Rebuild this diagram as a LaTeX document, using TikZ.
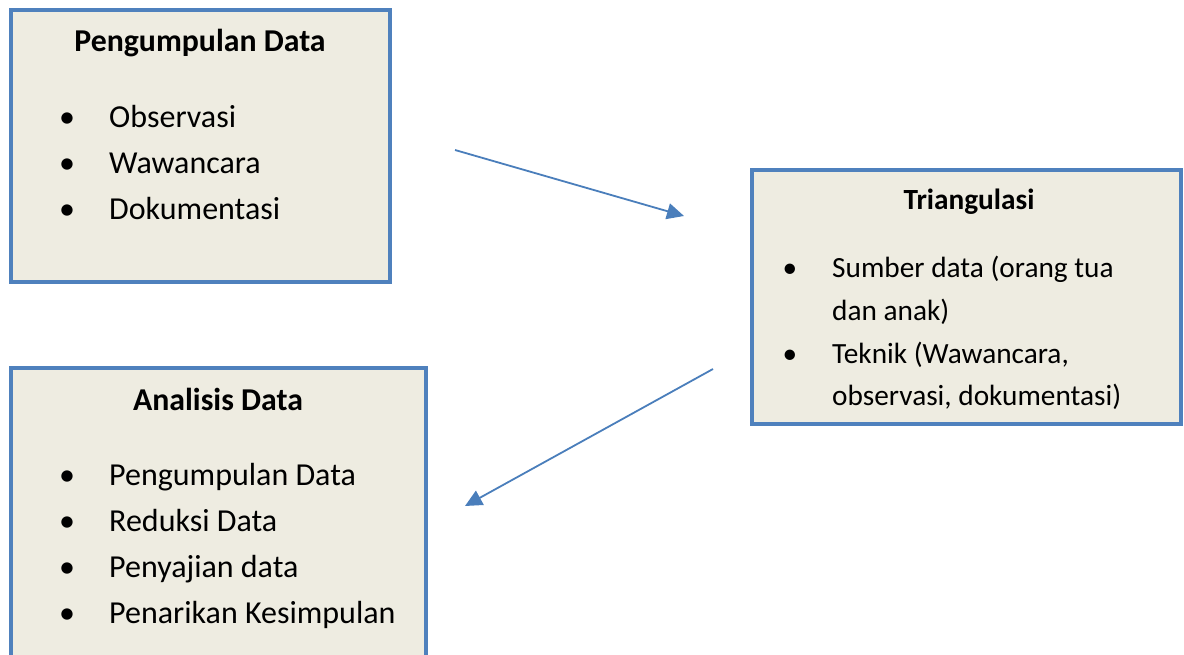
\documentclass[tikz,border=0pt]{standalone}
\usepackage{fontspec}
\setmainfont{Carlito}
\usetikzlibrary{arrows.meta}
\definecolor{boxfill}{HTML}{EEECE1}
\definecolor{boxline}{HTML}{4F81BD}
\definecolor{arrline}{HTML}{4A7EBB}
\tikzset{
  box/.style={draw=boxline, line width=4pt, fill=boxfill, rectangle, inner sep=0pt},
  ttl/.style={anchor=base, inner sep=0pt, font=\fontsize{31.8}{38}\selectfont\bfseries},
  ttlsmall/.style={anchor=base, inner sep=0pt, font=\fontsize{29.3}{35}\selectfont\bfseries},
  itm/.style={anchor=base west, inner sep=0pt, font=\fontsize{32}{38}\selectfont},
  itmsmall/.style={anchor=base west, inner sep=0pt, font=\fontsize{29.3}{35}\selectfont},
  bul/.style={anchor=base, inner sep=0pt, font=\fontsize{32}{38}\selectfont},
  bulsmall/.style={anchor=base, inner sep=0pt, font=\fontsize{29.3}{35}\selectfont},
  conn/.style={draw=arrline, line width=1.8pt, -{Triangle[length=17pt,width=16pt]}}
}
\begin{document}
\begin{tikzpicture}[x=1pt,y=-1pt]
\useasboundingbox (0,0) rectangle (1184,655);
\clip (0,0) rectangle (1184,655);
% boxes
\node[box, minimum width=379pt, minimum height=272pt] (pd) at (200,146.5) {};
\node[box, minimum width=429pt, minimum height=254pt] (tr) at (966.5,297) {};
\node[box, minimum width=415pt, minimum height=312pt] (ad) at (218,524) {};
% box 1 text
\node[ttl] (pdt) at (200,52) {Pengumpulan Data};
\node[bul] (pdb1) at (67,128) {•};
\node[itm] (pdi1) at (109,128) {Observasi};
\node[bul] (pdb2) at (67,174) {•};
\node[itm] (pdi2) at (109,174) {Wawancara};
\node[bul] (pdb3) at (67,220) {•};
\node[itm] (pdi3) at (109,220) {Dokumentasi};
% box 2 text
\node[ttlsmall] (trt) at (969,210) {Triangulasi};
\node[bulsmall] (trb1) at (790,278) {•};
\node[itmsmall] (tri1) at (832,278) {Sumber data (orang tua};
\node[itmsmall] (tri1b) at (832,320) {dan anak)};
\node[bulsmall] (trb2) at (790,363) {•};
\node[itmsmall] (tri2) at (832,363) {Teknik (Wawancara,};
\node[itmsmall] (tri2b) at (832,405) {observasi, dokumentasi)};
% box 3 text
\node[ttl] (adt) at (218,410) {Analisis Data};
\node[bul] (adb1) at (67,485) {•};
\node[itm] (adi1) at (109,485) {Pengumpulan Data};
\node[bul] (adb2) at (67,531) {•};
\node[itm] (adi2) at (109,531) {Reduksi Data};
\node[bul] (adb3) at (67,577) {•};
\node[itm] (adi3) at (109,577) {Penyajian data};
\node[bul] (adb4) at (67,623) {•};
\node[itm] (adi4) at (109,623) {Penarikan Kesimpulan};
% connectors
\coordinate (a1s) at (455,150);
\coordinate (a1e) at (684,216);
\coordinate (a2s) at (713,369);
\coordinate (a2e) at (465,506);
\draw[conn] (a1s) -- (a1e);
\draw[conn] (a2s) -- (a2e);
\end{tikzpicture}
\end{document}
